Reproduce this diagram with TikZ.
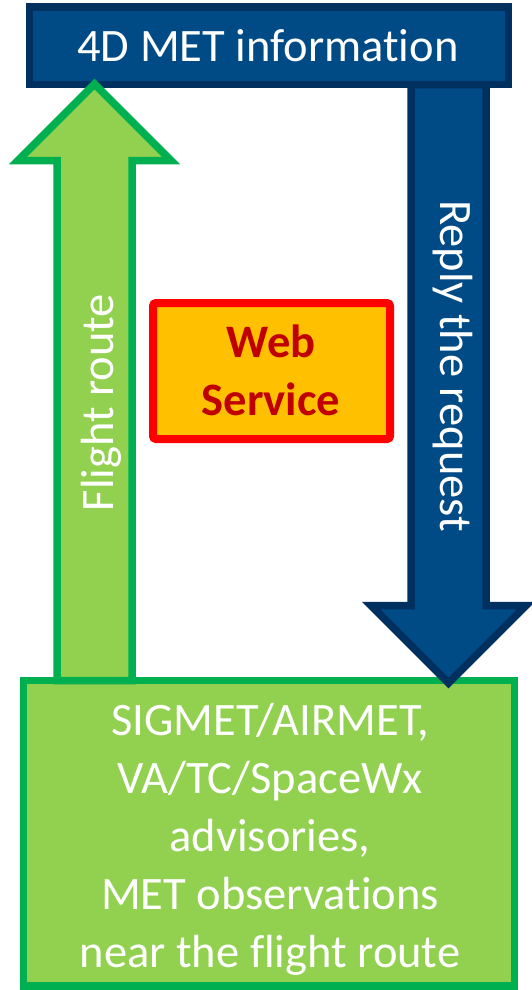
\documentclass[tikz,border=0pt]{standalone}
\usepackage{fontspec}
\setmainfont{Carlito}[Ligatures={NoCommon}]
\definecolor{navyfill}{HTML}{004A86}
\definecolor{navyline}{HTML}{003060}
\definecolor{leaf}{HTML}{92D050}
\definecolor{leafline}{HTML}{00B050}
\definecolor{amber}{HTML}{FFC000}
\definecolor{darkred}{HTML}{C00000}
\tikzset{
  bigtext/.style={font=\fontsize{46.5}{58}\selectfont, inner sep=0pt},
  navybox/.style={draw=navyline, fill=navyfill, line width=7.5pt, inner sep=0pt},
  leafbox/.style={draw=leafline, fill=leaf, line width=7.5pt, inner sep=0pt},
  servicebox/.style={draw=red, fill=amber, line width=8pt, rounded corners=3pt, inner sep=0pt},
  uparrow/.style={draw=leafline, fill=leaf, line width=7.5pt, line join=miter},
  downarrow/.style={draw=navyline, fill=navyfill, line width=7.5pt, line join=miter}
}
\begin{document}
\begin{tikzpicture}[x=1pt, y=-1pt]
\useasboundingbox (0,0) rectangle (531,990);

% boxes
\node[navybox, minimum width=479pt, minimum height=77.5pt] (met) at (269,45.75) {};
\node[leafbox, minimum width=491pt, minimum height=305.5pt] (obs) at (269,833.25) {};
\node[servicebox, minimum width=237pt, minimum height=136pt] (ws) at (271.5,371) {};

% upward arrow: observations -> 4D MET information
\draw[uparrow] (57,680.5) -- (57,160.5) -- (18,160.5) -- (94.5,84)
  -- (171,160.5) -- (132,160.5) -- (132,680.5) -- cycle;

% downward arrow: 4D MET information -> observations
\draw[downarrow] (411,84.5) -- (411,605.5) -- (371,605.5) -- (448.5,683)
  -- (526,605.5) -- (486,605.5) -- (486,84.5) -- cycle;

% labels (multi-line nodes are anchored on the baseline of their last line)
\node[bigtext, text=white, anchor=base] (mettxt) at (268,62) {4D MET information};
\node[bigtext, text=darkred, font=\fontsize{46.5}{58}\selectfont\bfseries, align=center, anchor=base] (wstxt) at (271,415) {Web\\Service};
\node[bigtext, text=white, align=center, anchor=base] (obstxt) at (270,967)
  {SIGMET/AIRMET,\\VA/TC/SpaceWx\\advisories,\\MET observations\\near the flight route};
\node[bigtext, text=white, rotate=90, anchor=base] (frtxt) at (113,402.5) {Flight route};
\node[bigtext, text=white, rotate=-90, anchor=base] (rqtxt) at (440,366) {Reply the request};
\end{tikzpicture}
\end{document}
